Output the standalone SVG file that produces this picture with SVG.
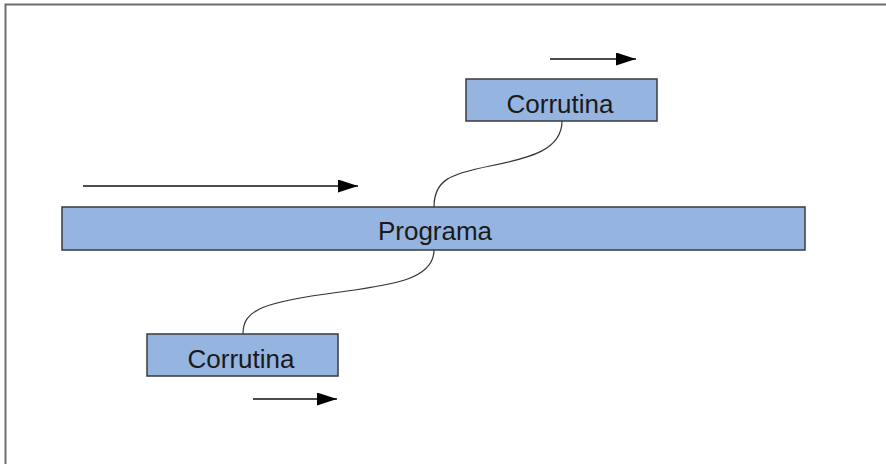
<svg xmlns="http://www.w3.org/2000/svg" width="886" height="464" viewBox="0 0 886 464">
<defs>
<style>
.box{fill:#95b4df;stroke:#3a3a3a;stroke-width:1.5}
.lbl{font-family:"Liberation Sans",Arial,sans-serif;font-size:26px;fill:#1a1a1a;text-anchor:middle}
.arr{stroke:#111;stroke-width:1.5;fill:none}
.wire{stroke:#333;stroke-width:1.2;fill:none}
</style>
<marker id="ah" viewBox="0 0 20 13" refX="20" refY="6.5" markerWidth="20" markerHeight="13" markerUnits="userSpaceOnUse" orient="auto">
<path d="M0,0 L20,6.5 L0,13 Z" fill="#000"/>
</marker>
</defs>
<rect x="0" y="0" width="886" height="464" fill="#fff"/>
<path d="M5.5,464 V4.5 H886" fill="none" stroke="#6e6e6e" stroke-width="2"/>
<g id="connectors">
<path class="wire" d="M562,121 C562,150 530,158 490,166 C450,174 434,180 434,207"/>
<path class="wire" d="M434,250 C434,280 390,285 340,292 C262,302 243,310 243,334"/>
<line class="arr" x1="83" y1="186" x2="358" y2="186" marker-end="url(#ah)"/>
<line class="arr" x1="550" y1="59" x2="636" y2="59" marker-end="url(#ah)"/>
<line class="arr" x1="253" y1="399" x2="337" y2="399" marker-end="url(#ah)"/>
</g>
<g id="programa">
<rect class="box" x="62" y="207" width="743" height="43"/>
<text class="lbl" x="435" y="240">Programa</text>
</g>
<g id="corrutina-top">
<rect class="box" x="466" y="79" width="191" height="42"/>
<text class="lbl" x="560" y="113">Corrutina</text>
</g>
<g id="corrutina-bottom">
<rect class="box" x="147" y="334" width="191" height="42"/>
<text class="lbl" x="241" y="368">Corrutina</text>
</g>
</svg>
